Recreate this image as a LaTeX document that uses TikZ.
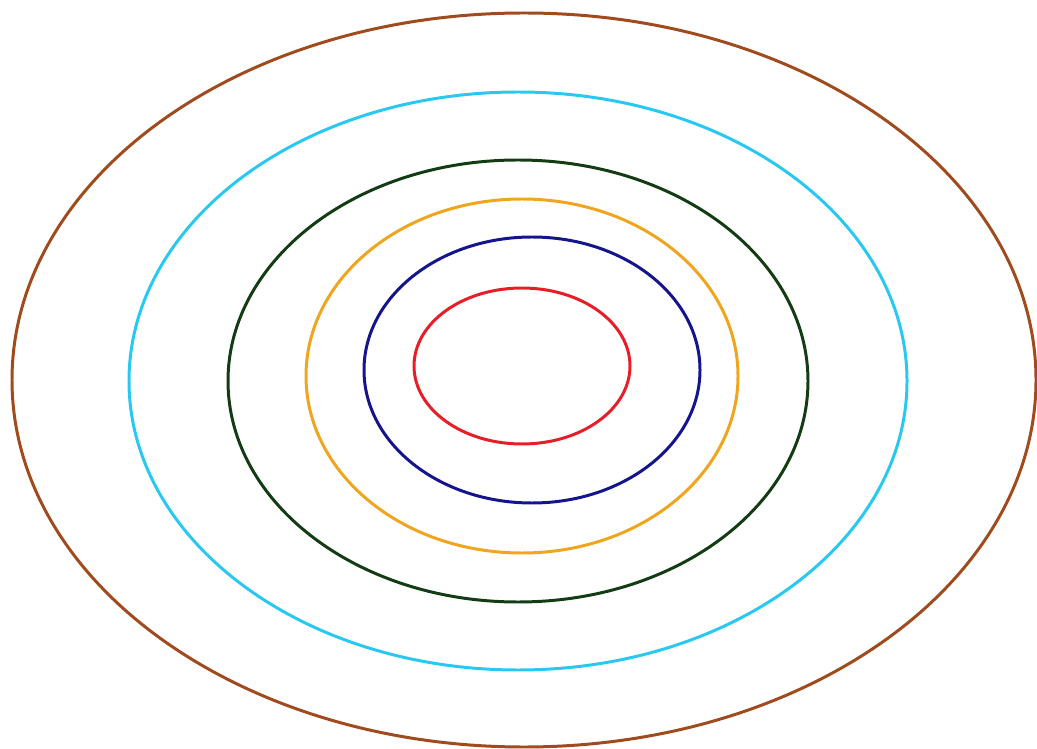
\documentclass[tikz,border=0pt]{standalone}
\usepackage{xcolor}
\definecolor{ringBrown}{RGB}{160, 75, 30}
\definecolor{ringCyan}{RGB}{40, 200, 240}
\definecolor{ringGreen}{RGB}{20, 60, 20}
\definecolor{ringOrange}{RGB}{240, 165, 30}
\definecolor{ringBlue}{RGB}{20, 20, 140}
\definecolor{ringRed}{RGB}{230, 30, 40}

\begin{document}
\begin{tikzpicture}[
    % one unit = one pixel of the 1037x749 frame, y pointing down
    x=0.02cm, y=-0.02cm,
    ring/.style={line width=1.7pt}
  ]
  \useasboundingbox (0, 0) rectangle (1037, 749);

  % ── Outer to inner rings ──────────────────────────────────────────────
  \draw[ring, ringBrown]  (524, 380) ellipse [x radius=512, y radius=367];
  \draw[ring, ringCyan]   (518, 381) ellipse [x radius=389, y radius=289];
  \draw[ring, ringGreen]  (518, 381) ellipse [x radius=290, y radius=221];
  \draw[ring, ringOrange] (522, 376) ellipse [x radius=216, y radius=177];
  \draw[ring, ringBlue]   (532, 370) ellipse [x radius=168, y radius=133];
  \draw[ring, ringRed]    (522, 366) ellipse [x radius=108, y radius=78];

\end{tikzpicture}
\end{document}
